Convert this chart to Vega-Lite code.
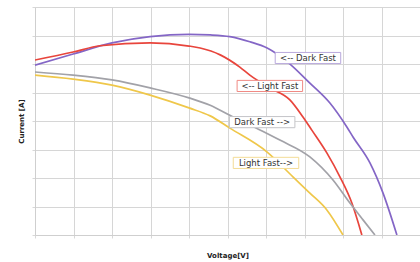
{
  "$schema": "https://vega.github.io/schema/vega-lite/v6.json",
  "width": 385,
  "height": 228,
  "autosize": {"type": "none"},
  "padding": {"left": 35, "top": 7, "right": 0, "bottom": 27},
  "background": "white",
  "config": {"view": {"stroke": null}},
  "datasets": {
    "curves": [
      {"curve": "Dark Fast (upper)", "v": 0, "i": 5.96},
      {"curve": "Dark Fast (upper)", "v": 0.99, "i": 6.35},
      {"curve": "Dark Fast (upper)", "v": 2.0, "i": 6.74},
      {"curve": "Dark Fast (upper)", "v": 2.99, "i": 6.96},
      {"curve": "Dark Fast (upper)", "v": 4.0, "i": 7.04},
      {"curve": "Dark Fast (upper)", "v": 4.55, "i": 7.02},
      {"curve": "Dark Fast (upper)", "v": 5.06, "i": 6.96},
      {"curve": "Dark Fast (upper)", "v": 5.58, "i": 6.78},
      {"curve": "Dark Fast (upper)", "v": 6.03, "i": 6.56},
      {"curve": "Dark Fast (upper)", "v": 6.57, "i": 6.06},
      {"curve": "Dark Fast (upper)", "v": 7.14, "i": 5.33},
      {"curve": "Dark Fast (upper)", "v": 7.66, "i": 4.63},
      {"curve": "Dark Fast (upper)", "v": 8.1, "i": 3.79},
      {"curve": "Dark Fast (upper)", "v": 8.26, "i": 3.44},
      {"curve": "Dark Fast (upper)", "v": 8.7, "i": 2.53},
      {"curve": "Dark Fast (upper)", "v": 9.04, "i": 1.47},
      {"curve": "Dark Fast (upper)", "v": 9.4, "i": 0},
      {"curve": "Light Fast (upper)", "v": 0, "i": 6.14},
      {"curve": "Light Fast (upper)", "v": 0.99, "i": 6.42},
      {"curve": "Light Fast (upper)", "v": 1.69, "i": 6.64},
      {"curve": "Light Fast (upper)", "v": 2.99, "i": 6.74},
      {"curve": "Light Fast (upper)", "v": 4.0, "i": 6.63},
      {"curve": "Light Fast (upper)", "v": 4.29, "i": 6.56},
      {"curve": "Light Fast (upper)", "v": 4.81, "i": 6.32},
      {"curve": "Light Fast (upper)", "v": 5.32, "i": 5.89},
      {"curve": "Light Fast (upper)", "v": 5.58, "i": 5.61},
      {"curve": "Light Fast (upper)", "v": 6.1, "i": 5.16},
      {"curve": "Light Fast (upper)", "v": 6.62, "i": 4.74},
      {"curve": "Light Fast (upper)", "v": 6.96, "i": 4.14},
      {"curve": "Light Fast (upper)", "v": 7.19, "i": 3.68},
      {"curve": "Light Fast (upper)", "v": 7.58, "i": 2.88},
      {"curve": "Light Fast (upper)", "v": 7.92, "i": 2.04},
      {"curve": "Light Fast (upper)", "v": 8.23, "i": 1.12},
      {"curve": "Light Fast (upper)", "v": 8.49, "i": 0},
      {"curve": "Dark Fast (lower)", "v": 0, "i": 5.72},
      {"curve": "Dark Fast (lower)", "v": 0.99, "i": 5.61},
      {"curve": "Dark Fast (lower)", "v": 2.0, "i": 5.44},
      {"curve": "Dark Fast (lower)", "v": 2.99, "i": 5.16},
      {"curve": "Dark Fast (lower)", "v": 4.0, "i": 4.81},
      {"curve": "Dark Fast (lower)", "v": 4.55, "i": 4.55},
      {"curve": "Dark Fast (lower)", "v": 5.06, "i": 4.2},
      {"curve": "Dark Fast (lower)", "v": 5.9, "i": 3.65},
      {"curve": "Dark Fast (lower)", "v": 6.36, "i": 3.33},
      {"curve": "Dark Fast (lower)", "v": 7.14, "i": 2.74},
      {"curve": "Dark Fast (lower)", "v": 7.74, "i": 1.93},
      {"curve": "Dark Fast (lower)", "v": 8.18, "i": 1.12},
      {"curve": "Dark Fast (lower)", "v": 8.52, "i": 0.53},
      {"curve": "Dark Fast (lower)", "v": 8.83, "i": 0},
      {"curve": "Light Fast (lower)", "v": 0, "i": 5.61},
      {"curve": "Light Fast (lower)", "v": 0.99, "i": 5.47},
      {"curve": "Light Fast (lower)", "v": 2.0, "i": 5.26},
      {"curve": "Light Fast (lower)", "v": 2.99, "i": 4.91},
      {"curve": "Light Fast (lower)", "v": 4.0, "i": 4.46},
      {"curve": "Light Fast (lower)", "v": 4.55, "i": 4.18},
      {"curve": "Light Fast (lower)", "v": 5.06, "i": 3.75},
      {"curve": "Light Fast (lower)", "v": 6.03, "i": 2.91},
      {"curve": "Light Fast (lower)", "v": 6.7, "i": 2.04},
      {"curve": "Light Fast (lower)", "v": 7.14, "i": 1.47},
      {"curve": "Light Fast (lower)", "v": 7.58, "i": 0.88},
      {"curve": "Light Fast (lower)", "v": 8.0, "i": 0}
    ],
    "labels": [
      {"curve": "Dark Fast (upper)", "v": 7.09, "i": 6.21, "text": "<--  Dark Fast"},
      {"curve": "Light Fast (upper)", "v": 6.1, "i": 5.23, "text": "<-- Light Fast"},
      {"curve": "Dark Fast (lower)", "v": 5.9, "i": 3.96, "text": "Dark Fast -->"},
      {"curve": "Light Fast (lower)", "v": 6.0, "i": 2.53, "text": "Light Fast-->"}
    ]
  },
  "layer": [
    {
      "data": {"name": "curves"},
      "mark": {"type": "line", "interpolate": "monotone", "strokeWidth": 1.7, "clip": true},
      "encoding": {
        "x": {
          "field": "v", "type": "quantitative",
          "scale": {"domain": [0, 10], "nice": false, "zero": false},
          "axis": {
            "title": "Voltage[V]", "tickCount": 10,
            "labels": false, "ticks": true, "tickSize": 3, "tickColor": "#d8d8d8",
            "domainColor": "#cfcfcf", "gridColor": "#d6d6d6", "gridWidth": 1,
            "titleFont": "DejaVu Sans", "titleFontSize": 7, "titleFontWeight": "bold",
            "titleColor": "#222", "titlePadding": 13
          }
        },
        "y": {
          "field": "i", "type": "quantitative",
          "scale": {"domain": [0, 8], "nice": false},
          "axis": {
            "title": "Current [A]", "tickCount": 8,
            "labels": false, "ticks": true, "tickSize": 3, "tickColor": "#d8d8d8",
            "domainColor": "#cfcfcf", "gridColor": "#d6d6d6", "gridWidth": 1,
            "titleFont": "DejaVu Sans", "titleFontSize": 7, "titleFontWeight": "bold",
            "titleColor": "#222", "titlePadding": 7
          }
        },
        "color": {
          "field": "curve", "type": "nominal", "legend": null,
          "scale": {
            "domain": ["Dark Fast (upper)", "Light Fast (upper)", "Dark Fast (lower)", "Light Fast (lower)"],
            "range": ["#8466c6", "#e8453c", "#a2a2a8", "#efc74a"]
          }
        }
      }
    },
    {
      "data": {"name": "labels"},
      "mark": {
        "type": "point", "filled": false, "fill": "white", "fillOpacity": 1,
        "shape": "M-1,-0.17H1V0.17H-1Z", "size": 4290, "strokeWidth": 1, "opacity": 1
      },
      "encoding": {
        "x": {"field": "v", "type": "quantitative"},
        "y": {"field": "i", "type": "quantitative"},
        "stroke": {
          "field": "curve", "type": "nominal", "legend": null,
          "scale": {
            "domain": ["Dark Fast (upper)", "Light Fast (upper)", "Dark Fast (lower)", "Light Fast (lower)"],
            "range": ["#b8a8dc", "#f08a84", "#c4c4c8", "#f3dc96"]
          }
        }
      }
    },
    {
      "data": {"name": "labels"},
      "mark": {"type": "text", "font": "DejaVu Sans", "fontSize": 8.5, "color": "#333", "align": "center", "baseline": "middle"},
      "encoding": {
        "x": {"field": "v", "type": "quantitative"},
        "y": {"field": "i", "type": "quantitative"},
        "text": {"field": "text"}
      }
    }
  ]
}
